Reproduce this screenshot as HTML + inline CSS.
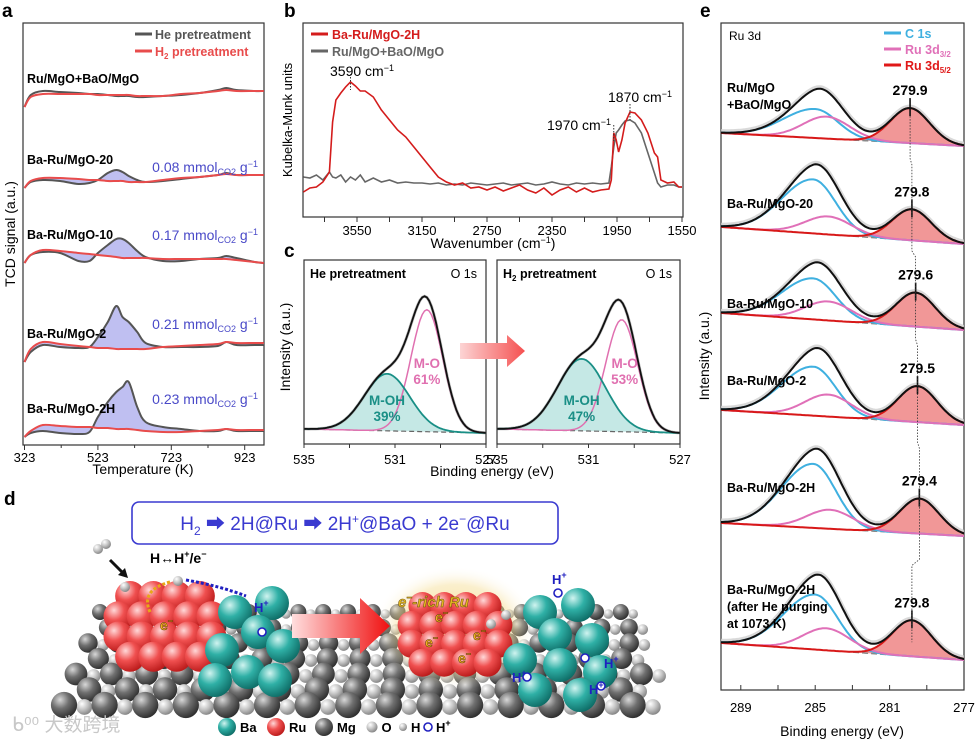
<!DOCTYPE html>
<html><head><meta charset="utf-8">
<style>
html,body{margin:0;padding:0;background:#fff;}
svg{display:block;font-family:"Liberation Sans","Noto Sans CJK SC",sans-serif;}
.b{font-weight:bold;}
</style></head>
<body>
<svg id="fig" width="976" height="742" viewBox="0 0 976 742" xmlns="http://www.w3.org/2000/svg">
<defs>
<radialGradient id="gDark" cx="0.35" cy="0.3" r="0.75"><stop offset="0" stop-color="#d8d8d8"/><stop offset="0.45" stop-color="#707070"/><stop offset="1" stop-color="#2a2a2a"/></radialGradient>
<radialGradient id="gLight" cx="0.35" cy="0.3" r="0.75"><stop offset="0" stop-color="#ffffff"/><stop offset="0.5" stop-color="#c4c4c4"/><stop offset="1" stop-color="#808080"/></radialGradient>
<radialGradient id="gRed" cx="0.35" cy="0.3" r="0.75"><stop offset="0" stop-color="#ffd8d8"/><stop offset="0.45" stop-color="#f05050"/><stop offset="1" stop-color="#b81818"/></radialGradient>
<radialGradient id="gTeal" cx="0.35" cy="0.3" r="0.75"><stop offset="0" stop-color="#d0f4f0"/><stop offset="0.45" stop-color="#2fb0a6"/><stop offset="1" stop-color="#0d6a64"/></radialGradient>
<radialGradient id="gGlow" cx="0.5" cy="0.5" r="0.5"><stop offset="0" stop-color="#f5d470" stop-opacity="0.8"/><stop offset="0.7" stop-color="#f5dc90" stop-opacity="0.45"/><stop offset="1" stop-color="#fff" stop-opacity="0"/></radialGradient>
<linearGradient id="gArrow" x1="0" x2="1"><stop offset="0" stop-color="#ffdede"/><stop offset="1" stop-color="#f01010"/></linearGradient>
<linearGradient id="gArrowC" x1="0" x2="1"><stop offset="0" stop-color="#fcd4d4"/><stop offset="1" stop-color="#f55050"/></linearGradient>
</defs>

<text x="2" y="17" font-size="19" class="b">a</text>
<text x="284" y="17" font-size="19" class="b">b</text>
<text x="284" y="257" font-size="19" class="b">c</text>
<text x="4" y="505" font-size="19" class="b">d</text>
<text x="700" y="17" font-size="19" class="b">e</text>

<g id="pa">
<rect x="23" y="23" width="241" height="422" fill="none" stroke="#333" stroke-width="1.2"/>
<text x="15" y="234" font-size="14" text-anchor="middle" transform="rotate(-90 15 234)">TCD signal (a.u.)</text>
<text x="143" y="474" font-size="14" text-anchor="middle">Temperature (K)</text>
<line x1="135" y1="34" x2="152" y2="34" stroke="#555" stroke-width="3"/>
<text x="155" y="39" font-size="12.5" class="b" fill="#555">He pretreatment</text>
<line x1="135" y1="51" x2="152" y2="51" stroke="#e84c4c" stroke-width="3"/>
<text x="155" y="56" font-size="12.5" class="b" fill="#e84c4c">H<tspan font-size="8" dy="3">2</tspan><tspan dy="-3"> pretreatment</tspan></text>
</g>

<g id="pb">
<rect x="303" y="23" width="380" height="194" fill="none" stroke="#333" stroke-width="1.2"/>
<text x="292" y="120" font-size="13" text-anchor="middle" transform="rotate(-90 292 120)">Kubelka-Munk units</text>
<text x="493" y="248" font-size="14" text-anchor="middle">Wavenumber (cm<tspan font-size="9" dy="-5">−1</tspan><tspan dy="5">)</tspan></text>
<line x1="311" y1="34" x2="328" y2="34" stroke="#d41c1c" stroke-width="3"/>
<text x="332" y="39" font-size="12.5" class="b" fill="#d41c1c">Ba-Ru/MgO-2H</text>
<line x1="311" y1="51" x2="328" y2="51" stroke="#666" stroke-width="3"/>
<text x="332" y="56" font-size="12.5" class="b" fill="#666">Ru/MgO+BaO/MgO</text>
<text x="362" y="76" font-size="14" text-anchor="middle">3590 cm<tspan font-size="9" dy="-5">−1</tspan></text>
<text x="579" y="130" font-size="14" text-anchor="middle">1970 cm<tspan font-size="9" dy="-5">−1</tspan></text>
<text x="640" y="102" font-size="14" text-anchor="middle">1870 cm<tspan font-size="9" dy="-5">−1</tspan></text>
</g>

<g id="pc">
<text x="290" y="347" font-size="14" text-anchor="middle" transform="rotate(-90 290 347)">Intensity (a.u.)</text>
<text x="492" y="476" font-size="14" text-anchor="middle">Binding energy (eV)</text>
<text x="310" y="278" font-size="12.5" class="b">He pretreatment</text>
<text x="477" y="278" font-size="12.5" text-anchor="end">O 1s</text>
<text x="503" y="278" font-size="12.5" class="b">H<tspan font-size="8" dy="3">2</tspan><tspan dy="-3"> pretreatment</tspan></text>
<text x="672" y="278" font-size="12.5" text-anchor="end">O 1s</text>
</g>

<g id="pe">
<rect x="721" y="23" width="243" height="667" fill="none" stroke="#333" stroke-width="1.2"/>
<text x="709" y="356" font-size="14" text-anchor="middle" transform="rotate(-90 709 356)">Intensity (a.u.)</text>
<text x="842" y="736" font-size="14" text-anchor="middle">Binding energy (eV)</text>
<text x="729" y="40" font-size="12">Ru 3d</text>
<line x1="884" y1="33" x2="901" y2="33" stroke="#3fb0e0" stroke-width="3"/>
<text x="905" y="38" font-size="12.5" class="b" fill="#3fb0e0">C 1s</text>
<line x1="884" y1="49" x2="901" y2="49" stroke="#e070b8" stroke-width="3"/>
<text x="905" y="54" font-size="12.5" class="b" fill="#e070b8">Ru 3d<tspan font-size="8" dy="3">3/2</tspan></text>
<line x1="884" y1="65" x2="901" y2="65" stroke="#e01818" stroke-width="3"/>
<text x="905" y="70" font-size="12.5" class="b" fill="#e01818">Ru 3d<tspan font-size="8" dy="3">5/2</tspan></text>
</g>

<g id="pd">
<rect x="132" y="502" width="426" height="42" rx="7" fill="#fff" stroke="#3a3ad0" stroke-width="1.6"/>
<text x="345" y="530" font-size="19" text-anchor="middle" fill="#3a3ad0">H<tspan font-size="12" dy="5">2</tspan><tspan dy="-5"> ➡ 2H@Ru ➡ 2H</tspan><tspan font-size="12" dy="-7">+</tspan><tspan dy="7">@BaO + 2e</tspan><tspan font-size="12" dy="-7">−</tspan><tspan dy="7">@Ru</tspan></text>
</g>
</svg>

<script>
// ---------- Panel a data ----------
const aTemps=[323,340,373,420,470,500,523,550,573,590,607,630,653,700,750,800,850,873,900,950,975];
const aSamples=['Ru/MgO+BaO/MgO','Ba-Ru/MgO-20','Ba-Ru/MgO-10','Ba-Ru/MgO-2','Ba-Ru/MgO-2H'];
const aOffsets=[330,249,174,75,0];
const aHe0=[0,12,16,15,14,13,13,12,11,11,11,10,10,11,12,14,17,19,17,16,16];
const aH20=[0,10,13,13,13,13,12,12,12,12,12,11,11,11,13,14,16,17,16,16,16];
const aHe1=[0,6,8,7,4,5,8,15,18,16,12,8,6,7,9,11,13,15,13,13,13];
const aH21=[0,7,10,10,9,8,8,7,7,7,6,6,6,8,10,11,13,14,13,13,13];
const aHe2=[0,8,11,10,2,2,10,18,24,24,20,12,6,2,2,4,5,7,5,1,0];
const aH22=[0,8,13,12,10,9,8,7,6,5,5,5,5,4,4,4,4,4,3,1,0];
const aHe3=[0,10,17,15,14,15,25,40,56,45,40,30,19,15,15,15,16,20,17,17,17];
const aH23=[0,13,20,18,16,15,14,14,13,13,13,13,13,15,16,17,18,20,19,19,19];
const aHe4=[0,4,6,4,3,5,20,35,45,50,55,30,15,10,8,6,6,8,6,6,6];
const aH24=[0,6,12,11,10,10,9,9,8,8,8,7,6,5,5,6,7,8,7,7,7];
const aAmounts=['0.08','0.17','0.21','0.23'];
const aTickLabels=[323,523,723,923];

// ---------- Panel b data ----------
const bWn=[3880,3840,3800,3760,3720,3700,3680,3650,3620,3590,3560,3530,3500,3450,3400,3350,3300,3250,3200,3150,3100,3050,3000,2950,2900,2850,2800,2750,2700,2650,2600,2550,2500,2450,2400,2350,2300,2250,2200,2150,2100,2050,2000,1985,1970,1955,1940,1920,1900,1870,1840,1800,1760,1720,1700,1680,1640,1600,1570,1550];
const bRed=[25,29,30,35,45,95,117,124,130,135,131,126,126,120,107,97,87,80,70,60,50,40,35,32,34,29,30,27,30,26,29,32,27,24,29,22,27,30,25,29,25,27,28,37,84,77,65,77,94,105,104,97,84,64,60,37,34,35,30,30];
const bGray=[40,39,42,37,45,40,39,42,35,40,37,42,35,39,35,37,34,35,34,34,33,34,32,33,32,34,33,32,33,34,32,33,34,32,33,35,33,32,34,33,34,33,34,50,70,84,87,92,96,97,94,84,64,44,34,30,32,32,30,30];
const bTickLabels=[3550,3150,2750,2350,1950,1550];
const bPeaks=[3590,1970,1870];

// ---------- Panel c data ----------
const cPanels=['He pretreatment','H2 pretreatment'];
const cOHpos=[531.35,531.3], cOHheight=[57,72], cOHwidth=[1.0,1.05];
const cOpos=[529.6,529.55], cOheight=[122,112], cOwidth=[0.7,0.7];
const cOHpct=['39%','47%'], cOpct=['61%','53%'];
const cTickLabels=[535,531,527];

// ---------- Panel e data ----------
const eSamples=['Ru/MgO+BaO/MgO','Ba-Ru/MgO-20','Ba-Ru/MgO-10','Ba-Ru/MgO-2','Ba-Ru/MgO-2H','Ba-Ru/MgO-2H after He'];
const eRuPos=[279.9,279.8,279.6,279.5,279.4,279.8];
const eBaseL=[567,473,387,290,177,57];
const eBaseR=[554,456,370,275,164,40];
const eCpos=[285.0,285.1,285.1,285.1,285.1,285.0];
const eCheight=[29,54,41,49,64,55];
const ePpos=[284.4,284.3,284.3,284.3,284.2,284.4];
const ePheight=[22,18,19,22,19,22];
const eRheight=[35,31,34,36,35,36];
const eTickLabels=[289,285,281,277];

const NS='http://www.w3.org/2000/svg';
function mk(tag,attrs,parent){const e=document.createElementNS(NS,tag);for(const k in attrs)e.setAttribute(k,attrs[k]);parent.appendChild(e);return e;}
function smooth(p){let d='M'+p[0][0].toFixed(1)+','+p[0][1].toFixed(1);for(let i=0;i<p.length-1;i++){const p0=p[i-1]||p[i],p1=p[i],p2=p[i+1],p3=p[i+2]||p2;const c1=[p1[0]+(p2[0]-p0[0])/6,p1[1]+(p2[1]-p0[1])/6],c2=[p2[0]-(p3[0]-p1[0])/6,p2[1]-(p3[1]-p1[1])/6];d+=' C'+c1[0].toFixed(1)+','+c1[1].toFixed(1)+' '+c2[0].toFixed(1)+','+c2[1].toFixed(1)+' '+p2[0].toFixed(1)+','+p2[1].toFixed(1);}return d;}
function poly(p){return 'M'+p.map(q=>q[0].toFixed(1)+','+q[1].toFixed(1)).join(' L');}
function gauss(x,c,h,s){return h*Math.exp(-((x-c)*(x-c))/(2*s*s));}

// ===== Panel a =====
(function(){
const g=document.getElementById('pa');
const xA=t=>24.5+(t-323)*0.367;
const yA=v=>437-v;
const he=[aHe0,aHe1,aHe2,aHe3,aHe4], h2=[aH20,aH21,aH22,aH23,aH24];
aSamples.forEach((name,i)=>{
  const off=aOffsets[i];
  const pHe=aTemps.map((t,k)=>[xA(t),yA(off+he[i][k])]);
  const pH2=aTemps.map((t,k)=>[xA(t),yA(off+h2[i][k])]);
  if(i>0){
    const fill=mk('path',{d:smooth(pHe)+' L'+smooth(pH2.slice().reverse()).slice(1),fill:'#b4b4ee',opacity:0.85},g);
    
    
  }
  const l1=mk('path',{d:smooth(pHe),fill:'none',stroke:'#555','stroke-width':2},g);
  
  
  const l2=mk('path',{d:smooth(pH2),fill:'none',stroke:'#e84c4c','stroke-width':2},g);
  
  
  const lab=mk('text',{x:27,y:yA(off)-24,'font-size':12.5,'font-weight':'bold'},g);
  lab.textContent=name;
  
  
  if(i>0){
    const am=mk('text',{x:258,y:yA(off)-[0,16,23,33,33][i],'font-size':14,fill:'#4a4ac8','text-anchor':'end'},g);
    am.innerHTML=aAmounts[i-1]+' mmol<tspan font-size="9" dy="3">CO2</tspan><tspan dy="-3"> g</tspan><tspan font-size="9" dy="-5">−1</tspan>';
    
    
  }
});
for(let t=323;t<=923;t+=100){
  const tk=mk('line',{x1:xA(t),x2:xA(t),y1:445,y2:(t-323)%200==0?450:448,stroke:'#333'},g);
  
  
}
aTickLabels.forEach(t=>{
  const tl=mk('text',{x:xA(t),y:462,'font-size':13,'text-anchor':'middle'},g);
  tl.textContent=t;
  
  
});
})();

// ===== Panel b =====
(function(){
const g=document.getElementById('pb');
const xB=w=>682-(w-1550)*0.1625;
const yB=v=>217-v;
const gp=mk('path',{d:poly(bWn.map((w,k)=>[xB(w),yB(bGray[k])])),fill:'none',stroke:'#666','stroke-width':1.6},g);


const rp=mk('path',{d:poly(bWn.map((w,k)=>[xB(w),yB(bRed[k])])),fill:'none',stroke:'#d41c1c','stroke-width':1.6},g);


bPeaks.forEach(w=>{
  const k=bWn.indexOf(w);
  const m=mk('line',{x1:xB(w),x2:xB(w),y1:yB(bRed[k])-8,y2:yB(bRed[k])+8,stroke:'#333','stroke-dasharray':'1.5,1.5'},g);
  
  
});
for(let w=3750;w>=1550;w-=200){
  const tk=mk('line',{x1:xB(w),x2:xB(w),y1:217,y2:222,stroke:'#333'},g);
  
  
}
bTickLabels.forEach(w=>{
  const tl=mk('text',{x:xB(w),y:235,'font-size':13,'text-anchor':'middle'},g);
  tl.textContent=w;
  
  
});
})();

// ===== Panel c =====
(function(){
const g=document.getElementById('pc');
const boxes=[[304,486],[497,680]];
cPanels.forEach((nm,i)=>{
  const [L,R]=boxes[i];
  const xC=E=>L+(535-E)*(R-L)/8;
  const yC=v=>433-v;
  const base=E=>4*(E-527)/8;
  const Es=[];for(let E=535.3;E>=526.7;E-=0.1)Es.push(E);
  const oh=Es.map(E=>[xC(E),yC(base(E)+gauss(E,cOHpos[i],cOHheight[i],cOHwidth[i]))]);
  const o=Es.map(E=>[xC(E),yC(base(E)+gauss(E,cOpos[i],cOheight[i],cOwidth[i]))]);
  const env=Es.map(E=>[xC(E),yC(base(E)+gauss(E,cOHpos[i],cOHheight[i],cOHwidth[i])+gauss(E,cOpos[i],cOheight[i],cOwidth[i]))]);
  const bl=Es.map(E=>[xC(E),yC(base(E))]);
  const clip=mk('clipPath',{id:'clipc'+i},g);
  mk('rect',{x:L,y:260,width:R-L,height:184},clip);
  const gg=mk('g',{'clip-path':'url(#clipc'+i+')'},g);
  const f=mk('path',{d:poly(oh)+' L'+poly(bl.slice().reverse()).slice(1)+' Z',fill:'#bfe6e2',opacity:0.9},gg);
  
  
  const b=mk('path',{d:poly(bl),fill:'none',stroke:'#666','stroke-width':1.2,'stroke-dasharray':'5,3'},gg);
  
  
  const dn=mk('path',{d:poly(env),fill:'none',stroke:'#aaa','stroke-width':3,opacity:0.8},gg);
  
  
  const lo=mk('path',{d:poly(o),fill:'none',stroke:'#e070b0','stroke-width':1.5},gg);
  
  
  const lh=mk('path',{d:poly(oh),fill:'none',stroke:'#1a8f86','stroke-width':1.8},gg);
  
  
  const le=mk('path',{d:poly(env),fill:'none',stroke:'#111','stroke-width':1.8},gg);
  
  
  const fr=mk('rect',{x:L,y:260,width:R-L,height:184,fill:'none',stroke:'#333','stroke-width':1.2},g);
  
  
  const xo=xC(cOpos[i])+(i?3:0), xh=xC(cOHpos[i]);
  const t1=mk('text',{x:xo,y:368,'font-size':13.5,'font-weight':'bold',fill:'#e070b0','text-anchor':'middle'},g);
  t1.innerHTML='M-O<tspan x="'+xo+'" dy="16">'+cOpct[i]+'</tspan>';
  
  
  const t2=mk('text',{x:xh,y:405,'font-size':13.5,'font-weight':'bold',fill:'#1a8f86','text-anchor':'middle'},g);
  t2.innerHTML='M-OH<tspan x="'+xh+'" dy="16">'+cOHpct[i]+'</tspan>';
  
  
  for(let E=535;E>=527;E-=2){
    const tk=mk('line',{x1:xC(E),x2:xC(E),y1:444,y2:448,stroke:'#333'},g);
    
    
  }
  cTickLabels.forEach(E=>{
    const tl=mk('text',{x:xC(E),y:464,'font-size':13,'text-anchor':'middle'},g);
    tl.textContent=E;
    
    
  });
});
const ar=mk('path',{d:'M460,343 L507,343 L507,335 L525,351 L507,367 L507,359 L460,359 Z',fill:'url(#gArrowC)'},g);


})();

// ===== Panel e =====
(function(){
const g=document.getElementById('pe');
const xE=E=>964-(E-277)*18.6;
const yE=v=>700-v;
const clip=mk('clipPath',{id:'clipe'},g);
mk('rect',{x:721,y:23,width:243,height:667},clip);
const gg=mk('g',{'clip-path':'url(#clipe)'},g);
const Es=[];for(let E=290.2;E>=276.8;E-=0.1)Es.push(E);
const peakPts=[];
eSamples.forEach((nm,i)=>{
  const base=E=>eBaseR[i]+(eBaseL[i]-eBaseR[i])*(E-277)/13;
  const C=E=>gauss(E,eCpos[i],eCheight[i],E>eCpos[i]?1.7:1.2);
  const P=E=>gauss(E,ePpos[i],ePheight[i],1.25);
  const Rr=E=>gauss(E,eRuPos[i],eRheight[i],1.05);
  const red=Es.map(E=>[xE(E),yE(base(E)+Rr(E))]);
  const bl=Es.map(E=>[xE(E),yE(base(E))]);
  const f=mk('path',{d:poly(red)+' L'+poly(bl.slice().reverse()).slice(1)+' Z',fill:'#f08c8c',opacity:0.9},gg);
  
  
  const b=mk('path',{d:poly(bl),fill:'none',stroke:'#888','stroke-width':1.5,'stroke-dasharray':'6,3'},gg);
  
  
  const env=Es.map(E=>[xE(E),yE(base(E)+C(E)+P(E)+Rr(E))]);
  const raw=mk('path',{d:poly(env.map(p=>[p[0],p[1]-1.5])),fill:'none',stroke:'#cfcfcf','stroke-width':4,opacity:0.8},gg);
  
  
  const lc=mk('path',{d:poly(Es.map(E=>[xE(E),yE(base(E)+C(E))])),fill:'none',stroke:'#3fb0e0','stroke-width':2},gg);
  
  
  const lp=mk('path',{d:poly(Es.map(E=>[xE(E),yE(base(E)+P(E))])),fill:'none',stroke:'#e070b8','stroke-width':2},gg);
  
  
  const lr=mk('path',{d:poly(red),fill:'none',stroke:'#d81818','stroke-width':2},gg);
  
  
  const le=mk('path',{d:poly(env),fill:'none',stroke:'#111','stroke-width':2},gg);
  
  
  const px=xE(eRuPos[i]), py=yE(base(eRuPos[i])+C(eRuPos[i])+P(eRuPos[i])+Rr(eRuPos[i]));
  peakPts.push([px,py]);
  const tk=mk('line',{x1:px,x2:px,y1:py-10,y2:py+8,stroke:'#111','stroke-width':1.6},g);
  
  
  const lab=mk('text',{x:px,y:py-13,'font-size':14,'font-weight':'bold','text-anchor':'middle'},g);
  lab.textContent=eRuPos[i].toFixed(1);
  
  
});
let d='';
for(let i=0;i<peakPts.length;i++){
  const [px,py]=peakPts[i];
  d+=(i?' L':'M')+px.toFixed(1)+','+(py+8);
  if(i<peakPts.length-1){
    const mid=(py+peakPts[i+1][1])/2;
    d+=' L'+px.toFixed(1)+','+mid+' L'+peakPts[i+1][0].toFixed(1)+','+(mid+6)+' L'+peakPts[i+1][0].toFixed(1)+','+(peakPts[i+1][1]-10);
  } else d+=' L'+px.toFixed(1)+','+(py+22);
}
const dl=mk('path',{d:d,fill:'none',stroke:'#333','stroke-width':0.8,'stroke-dasharray':'1.5,1.5'},g);


const names=[['Ru/MgO','+BaO/MgO'],['Ba-Ru/MgO-20'],['Ba-Ru/MgO-10'],['Ba-Ru/MgO-2'],['Ba-Ru/MgO-2H'],['Ba-Ru/MgO-2H','(after He purging','at 1073 K)']];
const ny=[92,208,308,385,492,594];
names.forEach((ln,i)=>{
  ln.forEach((s,j)=>{
    const t=mk('text',{x:727,y:ny[i]+j*17,'font-size':12.5,'font-weight':'bold'},g);
    t.textContent=s;
    
    
  });
});
for(let E=289;E>=277;E-=2){
  const tk=mk('line',{x1:xE(E),x2:xE(E),y1:690,y2:685,stroke:'#333'},g);
  
  
}
eTickLabels.forEach(E=>{
  const tl=mk('text',{x:xE(E),y:712,'font-size':13,'text-anchor':'middle'},g);
  tl.textContent=E;
  
  
});
})();

// ===== Panel d illustration =====
(function(){
const g=document.getElementById('pd');
function sph(x,y,r,fill,name){const c=mk('circle',{cx:x,cy:y,r:r,fill:fill},g);return c;}
for(let j=0;j<7;j++){
  const y=612+j*15.5, r=8+j*0.85, sp=r*3.1, x0=100-j*6+(j%2?sp/2:0), x1=645+j*1.5;
  for(let x=x0;x<=x1;x+=sp){
    sph(x+sp/2,y+2,r*0.6,'url(#gLight)','o-atom');
    sph(x,y,r,'url(#gDark)','mg-atom');
  }
}
const gl=mk('ellipse',{cx:455,cy:628,rx:82,ry:62,fill:'url(#gGlow)'},g);


function cluster(cx,cy,rows,r,fill,name){rows.forEach((row,ri)=>{row.forEach(dx=>sph(cx+dx*r*1.55,cy+ri*r*1.35,r,fill,name));});}
cluster(165,596,[[-1.5,-0.5,0.5,1.5],[-2,-1,0,1,2],[-2,-1,0,1,2],[-1.5,-0.5,0.5,1.5]],15,'url(#gRed)','ru-atom');
[[235,612],[272,603],[258,632],[222,650],[283,646],[248,672],[215,680],[275,680]].forEach(p=>sph(p[0],p[1],17,'url(#gTeal)','ba-atom'));
const ar=mk('path',{d:'M292,614 L360,614 L360,598 L390,626 L360,654 L360,638 L292,638 Z',fill:'url(#gArrow)'},g);


cluster(455,606,[[-1.5,-0.5,0.5,1.5],[-2,-1,0,1,2],[-2,-1,0,1,2],[-1.5,-0.5,0.5,1.5]],14,'url(#gRed)','ru-atom');
[[540,612],[578,605],[555,635],[592,640],[520,660],[560,665],[600,672],[535,690],[580,695]].forEach(p=>sph(p[0],p[1],17,'url(#gTeal)','ba-atom'));
[[98,549,5],[106,544,5],[125,587,5],[178,581,5],[491,624,5],[506,615,5]].forEach(p=>sph(p[0],p[1],p[2],'url(#gLight)','h-atom'));
[[262,632],[558,593],[601,686],[585,658],[527,677]].forEach(p=>{const c=mk('circle',{cx:p[0],cy:p[1],r:4,fill:'#fff',stroke:'#2020c0','stroke-width':1.6},g);});
const a1=mk('path',{d:'M110,560 L124,574',stroke:'#111','stroke-width':3},g);


const a1h=mk('path',{d:'M128,578 L118,575 L125,568 Z',fill:'#111'},g);


const a2=mk('path',{d:'M186,580 Q220,586 246,596',fill:'none',stroke:'#2020c0','stroke-width':3,'stroke-dasharray':'3,2'},g);


const a3=mk('path',{d:'M170,582 Q140,590 150,612',fill:'none',stroke:'#e8a818','stroke-width':3,'stroke-dasharray':'3,2'},g);


const t1=mk('text',{x:150,y:563,'font-size':14,'font-weight':'bold'},g);
t1.innerHTML='H↔H<tspan font-size="9" dy="-6">+</tspan><tspan dy="6">/e</tspan><tspan font-size="9" dy="-6">−</tspan>';


const t2=mk('text',{x:398,y:607,'font-size':15,'font-weight':'bold','font-style':'italic',fill:'#e6b820',stroke:'#6a5010','stroke-width':0.5},g);
t2.innerHTML='e<tspan font-size="10" dy="-6">−</tspan><tspan dy="6">-rich Ru</tspan>';


[[160,630],[435,622],[425,647],[473,640],[458,663]].forEach(p=>{const e=mk('text',{x:p[0],y:p[1],'font-size':14,'font-weight':'bold',fill:'#f0b020',stroke:'#5a3a00','stroke-width':0.5},g);e.innerHTML='e<tspan font-size="9" dy="-6">−</tspan>';});
[[254,612],[552,584],[604,668],[589,694],[512,682]].forEach(p=>{const e=mk('text',{x:p[0],y:p[1],'font-size':13,'font-weight':'bold',fill:'#2020c0'},g);e.innerHTML='H<tspan font-size="9" dy="-6">+</tspan>';});
const leg=[['url(#gTeal)',9,227,'Ba'],['url(#gRed)',9,276,'Ru'],['url(#gDark)',9,324,'Mg'],['url(#gLight)',5.5,372,'O'],['url(#gLight)',4,403,'H']];
leg.forEach(l=>{
  sph(l[2],727,l[1],l[0],'legend-'+l[3].toLowerCase()+'-icon');
  const t=mk('text',{x:l[2]+l[1]+4,y:732,'font-size':13,'font-weight':'bold'},g);
  t.textContent=l[3];
  
  
});
const hp=mk('circle',{cx:428,cy:727,r:4,fill:'#fff',stroke:'#2020c0','stroke-width':1.6},g);


const hpt=mk('text',{x:436,y:732,'font-size':13,'font-weight':'bold'},g);
hpt.innerHTML='H<tspan font-size="9" dy="-6">+</tspan>';


const wm=mk('text',{x:12,y:731,'font-size':19,fill:'#c8c8c8'},g);
wm.textContent='ᑲ⁰⁰ 大数跨境';


})();
</script>
</body></html>
